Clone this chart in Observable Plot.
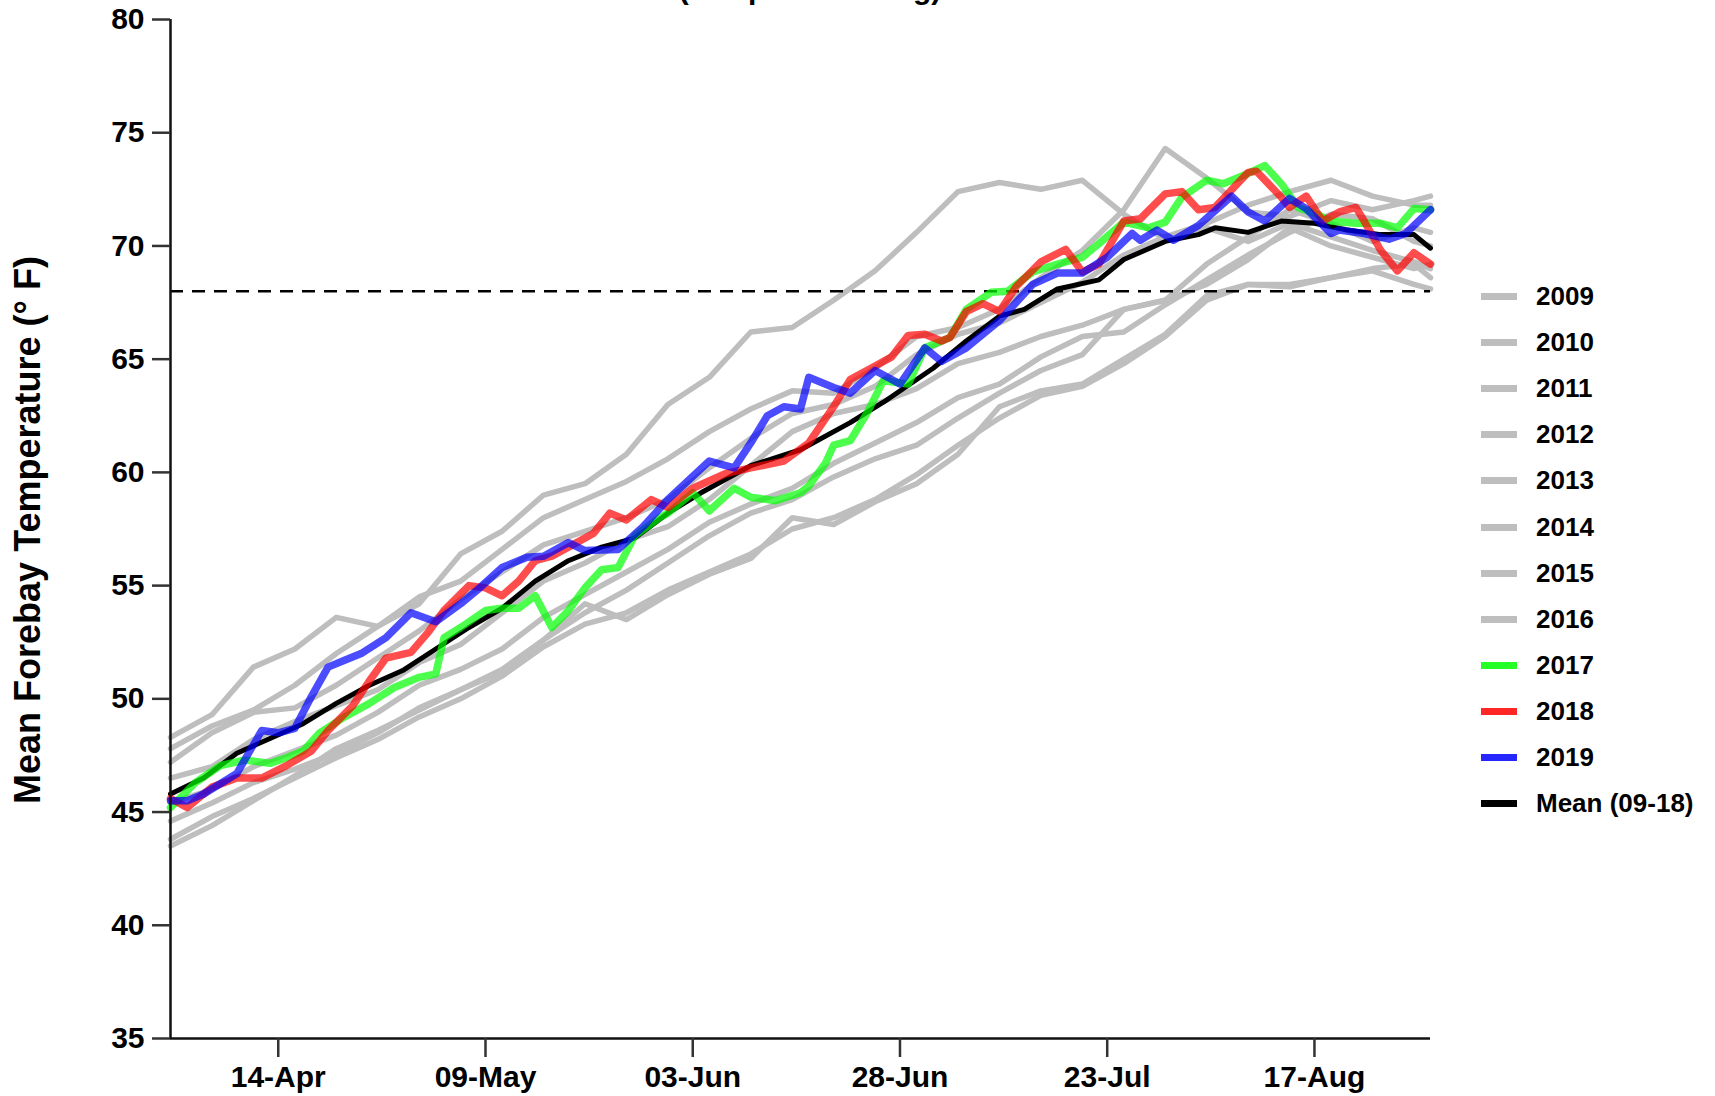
<!DOCTYPE html>
<html>
<head>
<meta charset="utf-8">
<script src="https://cdn.jsdelivr.net/npm/d3@7"></script>
<script src="https://cdn.jsdelivr.net/npm/@observablehq/plot@0.6"></script>
<style>
  html, body { margin: 0; padding: 0; background: #fff; overflow: hidden; }
  #wrap { position: relative; width: 1715px; height: 1096px; font-family: "Liberation Sans", Arial, sans-serif; }
  #legend { position: absolute; left: 1481px; top: 273px; }
  .row { position: absolute; left: 0; height: 46px; width: 240px; }
  .sw { position: absolute; left: 0; top: 20px; width: 36px; height: 7px; }
  .lab { position: absolute; left: 55px; top: 8px; font-weight: bold; font-size: 26px; line-height: 30px; color: #000; white-space: nowrap; }
</style>
</head>
<body>
<div id="wrap"></div>
<script>
// ---------------- data ----------------
const seasonStart = "2019-04-01";
const seasonEnd = "2019-08-31";
const yTicks = [35, 40, 45, 50, 55, 60, 65, 70, 75, 80];
const xTickLabels = ["14-Apr", "09-May", "03-Jun", "28-Jun", "23-Jul", "17-Aug"];
const threshold = 68;

// gray years sampled every 5 days (days since Apr 1)
const grayDays = [0,5,10,15,20,25,30,35,40,45,50,55,60,65,70,75,80,85,90,95,100,105,110,115,120,125,130,135,140,145,150,152];
const t2009 = [48.3,49.3,51.4,52.2,53.6,53.2,54.2,56.4,57.4,59.0,59.5,60.8,63.0,64.2,66.2,66.4,67.6,68.9,70.6,72.4,72.8,72.5,72.9,71.4,70.3,70.8,70.2,71.0,70.4,69.8,69.3,69.0];
const t2010 = [47.8,48.8,49.5,50.6,52.0,53.2,54.5,55.2,56.6,58.0,58.8,59.6,60.6,61.8,62.8,63.6,63.5,64.6,66.0,66.4,67.2,68.6,69.8,71.6,74.3,73.0,71.5,71.3,72.0,71.6,72.0,72.2];
const t2011 = [47.2,48.5,49.4,49.6,50.6,51.8,53.0,54.4,55.6,56.8,57.4,58.0,58.8,60.2,61.5,62.6,63.0,63.8,65.2,66.1,66.6,67.5,68.4,69.6,70.4,71.0,71.8,72.4,72.9,72.2,71.8,71.8];
const t2012 = [46.5,47.0,48.2,49.0,49.7,50.4,51.6,52.4,53.8,55.2,56.0,57.0,57.6,58.8,60.3,61.8,62.6,63.0,63.7,64.8,65.3,66.0,66.5,67.2,67.6,69.2,70.4,71.6,71.0,70.2,70.8,70.6];
const t2013 = [45.4,46.0,47.0,47.7,48.4,49.4,50.6,51.3,52.2,53.6,54.6,55.6,56.6,57.8,58.6,59.3,60.4,61.3,62.2,63.3,63.9,65.1,66.0,66.2,67.4,68.5,69.6,70.6,71.4,71.2,70.2,70.0];
const t2014 = [44.6,45.4,46.3,46.9,47.6,48.5,49.6,50.4,51.3,52.6,53.8,54.8,56.0,57.2,58.2,58.8,59.8,60.6,61.2,62.4,63.5,64.5,65.2,67.2,67.6,68.3,69.4,70.8,70.0,69.5,69.0,69.2];
const t2015 = [43.8,44.8,45.6,46.5,47.4,48.2,49.2,50.0,51.0,52.3,53.3,53.8,54.8,55.6,56.4,57.5,58.0,58.8,59.9,61.2,62.4,63.4,63.8,64.8,66.0,67.6,68.3,68.3,68.6,69.0,69.2,68.6];
const t2016 = [43.5,44.4,45.5,46.6,47.8,48.6,49.5,50.4,51.2,52.6,54.2,53.5,54.6,55.5,56.2,58.0,57.7,58.7,59.5,60.8,62.9,63.6,63.9,65.0,66.1,67.8,68.3,68.2,68.6,68.9,68.3,68.1];

const days2017 = [0,3,6,9,12,14,16,18,21,24,27,30,32,33,35,38,40,42,44,46,48,50,52,54,56,59,60,63,65,68,70,73,76,77,79,80,82,84,86,89,91,94,96,99,101,104,107,110,112,115,118,120,122,125,127,130,132,134,136,138,140,143,146,148,150,152];
const t2017 = [45.2,46.3,47.05,47.3,47.15,47.4,47.7,48.5,49.2,49.8,50.5,50.95,51.1,52.7,53.15,53.9,54.0,54.0,54.55,53.15,53.9,54.9,55.7,55.8,57.2,58.0,58.2,59.1,58.3,59.3,58.9,58.75,59.1,59.4,60.4,61.2,61.4,62.6,64.05,63.9,65.5,65.95,67.2,67.95,68.0,68.85,69.2,69.5,70.1,71.05,70.8,71.05,72.15,72.9,72.75,73.2,73.55,72.75,71.7,71.45,71.1,71.0,71.0,70.8,71.65,71.6];

const days2018 = [0,2,5,8,11,14,17,19,22,24,26,29,31,33,36,38,40,42,44,46,49,51,53,55,58,60,63,67,70,74,77,80,82,85,87,89,91,93,94,96,98,100,102,105,108,110,112,115,117,120,122,124,126,130,131,134,135,137,139,141,143,144,146,148,150,152];
const t2018 = [45.6,45.2,46.1,46.5,46.5,47.05,47.7,48.6,49.7,50.8,51.8,52.05,52.9,53.9,55.0,54.9,54.55,55.2,56.1,56.3,56.9,57.3,58.2,57.9,58.8,58.45,59.3,59.95,60.2,60.5,61.3,62.9,64.1,64.7,65.1,66.05,66.1,65.8,65.95,67.1,67.45,67.1,68.2,69.3,69.85,68.85,69.2,71.1,71.2,72.3,72.4,71.6,71.7,73.25,73.3,72.15,71.7,72.2,71.1,71.5,71.7,71.1,69.8,68.9,69.7,69.2];

const days2019 = [0,2,4,8,11,13,15,17,19,21,23,26,29,32,35,37,40,43,45,48,50,54,57,60,65,68,70,72,74,76,77,80,82,85,88,91,93,96,100,104,107,110,113,116,117,119,121,124,128,130,132,135,137,140,141,144,147,149,152];
const t2019 = [45.5,45.5,45.8,46.7,48.6,48.5,48.7,50.1,51.4,51.7,52.0,52.7,53.8,53.4,54.2,54.8,55.8,56.25,56.3,56.9,56.55,56.6,57.6,58.8,60.5,60.2,61.3,62.5,62.9,62.8,64.2,63.75,63.5,64.5,63.9,65.5,64.9,65.5,66.7,68.3,68.8,68.8,69.5,70.55,70.25,70.7,70.25,70.9,72.2,71.5,71.1,72.1,71.65,70.55,70.7,70.55,70.3,70.55,71.6];

const daysMean = [0,4,8,12,16,20,24,28,32,36,40,44,48,52,56,60,64,70,76,82,86,92,96,100,103,107,112,115,120,124,126,130,134,138,142,146,150,152];
const tMean = [45.8,46.5,47.6,48.25,48.9,49.8,50.6,51.25,52.2,53.15,54.0,55.2,56.1,56.7,57.1,58.2,59.1,60.3,61.0,62.2,63.1,64.6,65.8,66.9,67.2,68.1,68.5,69.4,70.2,70.5,70.8,70.6,71.1,71.0,70.7,70.5,70.5,69.9];

const grayYears = ["2009","2010","2011","2012","2013","2014","2015","2016"];
const grayTemps = [t2009,t2010,t2011,t2012,t2013,t2014,t2015,t2016];
const legendNames = ["2009","2010","2011","2012","2013","2014","2015","2016","2017","2018","2019","Mean (09-18)"];
const legendColors = ["#bebebe","#bebebe","#bebebe","#bebebe","#bebebe","#bebebe","#bebebe","#bebebe","#00ff00","#ff0000","#0000ff","#000000"];

// ---------------- build ----------------
const start = d3.utcParse("%Y-%m-%d")(seasonStart);
const end = d3.utcParse("%Y-%m-%d")(seasonEnd);
const toDate = d => d3.utcDay.offset(start, d);
const parseTick = d3.utcParse("%d-%b-%Y");
const tickDates = xTickLabels.map(s => parseTick(s + "-2019"));

function rows(name, days, temps) {
  return days.map((d, i) => ({series: name, date: toDate(d), temp: temps[i]}));
}
const grayRows = grayYears.flatMap((y, k) => rows(y, grayDays, grayTemps[k]));
const rows2017 = rows("2017", days2017, t2017);
const rows2018 = rows("2018", days2018, t2018);
const rows2019 = rows("2019", days2019, t2019);
const rowsMean = rows("Mean (09-18)", daysMean, tMean);

const lineOpts = {x: "date", y: "temp", strokeLinejoin: "round", strokeLinecap: "round"};

const chart = Plot.plot({
  width: 1715,
  height: 1096,
  marginLeft: 170,
  marginRight: 285,
  marginTop: 19,
  marginBottom: 58,
  style: {fontFamily: "'Liberation Sans', Arial, sans-serif", color: "#000", background: "#fff", overflow: "visible"},
  x: {type: "utc", domain: [start, end]},
  y: {domain: [35, 80]},
  marks: [
    Plot.line(grayRows, {...lineOpts, z: "series", stroke: "#bebebe", strokeWidth: 5.5}),
    Plot.ruleY([threshold], {stroke: "#000", strokeWidth: 2.5, strokeDasharray: "13,9"}),
    Plot.line(rowsMean, {...lineOpts, stroke: "#000", strokeWidth: 5}),
    Plot.line(rows2017, {...lineOpts, stroke: "#00ff00", strokeOpacity: 0.7, strokeWidth: 7.5}),
    Plot.line(rows2018, {...lineOpts, stroke: "#ff0000", strokeOpacity: 0.7, strokeWidth: 7.5}),
    Plot.line(rows2019, {...lineOpts, stroke: "#0000ff", strokeOpacity: 0.7, strokeWidth: 7.5}),
    Plot.ruleX([start], {stroke: "#111", strokeWidth: 2.5}),
    Plot.ruleY([35], {stroke: "#111", strokeWidth: 2.5}),
    Plot.axisY({ticks: yTicks, tickSize: 18, tickPadding: 8, fontSize: 30, fontWeight: "bold", label: null, stroke: "#333", strokeWidth: 2.5}),
    Plot.axisX({ticks: tickDates, tickFormat: d3.utcFormat("%d-%b"), tickSize: 19, tickPadding: 8, fontSize: 30, fontWeight: "bold", label: null, stroke: "#333", strokeWidth: 2.5})
  ]
});
chart.style.maxWidth = "none";
const wrap = document.getElementById("wrap");
wrap.appendChild(chart);

// y-axis title
const svg = d3.select(chart);
svg.append("text")
  .attr("transform", "translate(40,530) rotate(-90)")
  .attr("text-anchor", "middle")
  .attr("font-size", 36)
  .attr("font-weight", "bold")
  .attr("fill", "#000")
  .text("Mean Forebay Temperature (° F)");

// title, clipped at the very top as in the reference
svg.append("text")
  .attr("x", 810)
  .attr("y", -1)
  .attr("font-size", 30)
  .attr("font-weight", "bold")
  .attr("fill", "#000")
  .text("(Temp Smoothing)");

// legend
const legend = document.createElement("div");
legend.id = "legend";
legendNames.forEach((name, i) => {
  const r = document.createElement("div");
  r.className = "row";
  r.style.top = (i * 46.1) + "px";
  const sw = document.createElement("div");
  sw.className = "sw";
  sw.style.background = legendColors[i];
  sw.style.opacity = i >= 8 && i <= 10 ? 0.85 : 1;
  const lb = document.createElement("div");
  lb.className = "lab";
  lb.textContent = name;
  r.appendChild(sw); r.appendChild(lb);
  legend.appendChild(r);
});
wrap.appendChild(legend);
</script>
</body>
</html>
